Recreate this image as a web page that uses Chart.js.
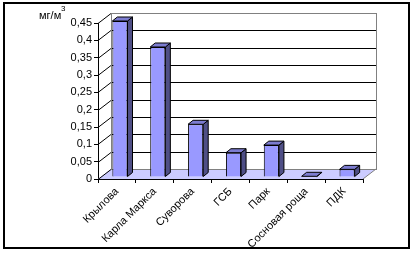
<!DOCTYPE html>
<html>
<head>
<meta charset="utf-8">
<script src="https://cdn.jsdelivr.net/npm/chart.js@4"></script>
<style>
  html, body { margin: 0; padding: 0; background: #fff; }
  canvas { display: block; }
</style>
</head>
<body>
<canvas id="myChart" width="414" height="253"></canvas>
<script>
// data
const stations = ['Крылова', 'Карла Маркса', 'Суворова', 'ГСБ', 'Парк', 'Сосновая роща', 'ПДК'];
const values = [0.45, 0.375, 0.152, 0.07, 0.092, 0.002, 0.022];
const yTicks = [0, 0.05, 0.1, 0.15, 0.2, 0.25, 0.3, 0.35, 0.4, 0.45];
const unitLabel = 'мг/м';

// depth of the 3d box and of the bars
const DX = 13, DY = -10;
const BX = 3, BY = -2;
const BDX = 5, BDY = -4;

const box3d = {
    id: 'box3d',
    beforeDatasetsDraw(chart) {
        const ctx = chart.ctx;
        const xs = chart.scales.x, ys = chart.scales.y;
        const left = xs.left, right = xs.right;
        const bottom = ys.getPixelForValue(0);
        const top = ys.getPixelForValue(yTicks[yTicks.length - 1]);
        ctx.save();
        // floor
        ctx.fillStyle = '#ccccff';
        ctx.beginPath();
        ctx.moveTo(left, bottom);
        ctx.lineTo(right, bottom);
        ctx.lineTo(right + DX, bottom + DY);
        ctx.lineTo(left + DX, bottom + DY);
        ctx.closePath();
        ctx.fill();
        ctx.strokeStyle = '#808080';
        ctx.lineWidth = 1;
        ctx.beginPath();
        ctx.moveTo(right, bottom);
        ctx.lineTo(right + DX, bottom + DY);
        ctx.stroke();
        // grid on the back wall + diagonals
        ctx.strokeStyle = '#000';
        yTicks.forEach(v => {
            const py = Math.round(ys.getPixelForValue(v)) + 0.5;
            ctx.beginPath();
            ctx.moveTo(left, py);
            ctx.lineTo(left + DX, py + DY);
            if (v > 0 && v < yTicks[yTicks.length - 1]) ctx.lineTo(right + DX, py + DY);
            ctx.stroke();
        });
        // back wall frame
        ctx.strokeStyle = '#808080';
        ctx.strokeRect(Math.round(left + DX) + 0.5, Math.round(top + DY) + 0.5,
            Math.round(right - left), Math.round(bottom - top));
        ctx.restore();
        ctx.save();
        ctx.translate(BX, BY);
    },
    afterDatasetsDraw(chart) {
        const ctx = chart.ctx;
        chart.getDatasetMeta(0).data.forEach(bar => {
            const l = bar.x - bar.width / 2, r = bar.x + bar.width / 2;
            const t = bar.y, b = bar.base;
            ctx.strokeStyle = '#000';
            ctx.lineWidth = 1;
            // side
            ctx.fillStyle = '#4f4f86';
            ctx.beginPath();
            ctx.moveTo(r, t);
            ctx.lineTo(r + BDX, t + BDY);
            ctx.lineTo(r + BDX, b + BDY);
            ctx.lineTo(r, b);
            ctx.closePath();
            ctx.fill();
            ctx.stroke();
            // top
            ctx.fillStyle = '#7c7cd0';
            ctx.beginPath();
            ctx.moveTo(l, t);
            ctx.lineTo(l + BDX, t + BDY);
            ctx.lineTo(r + BDX, t + BDY);
            ctx.lineTo(r, t);
            ctx.closePath();
            ctx.fill();
            ctx.stroke();
        });
        ctx.restore();
    },
    afterDraw(chart) {
        const ctx = chart.ctx;
        ctx.save();
        // units
        ctx.fillStyle = '#000';
        ctx.font = '11px "Liberation Sans", Arial, sans-serif';
        ctx.textBaseline = 'alphabetic';
        ctx.fillText(unitLabel, 39, 19);
        ctx.font = '8px "Liberation Sans", Arial, sans-serif';
        ctx.fillText('3', 61, 11);
        // outer frame
        ctx.strokeStyle = '#000';
        ctx.lineWidth = 2;
        ctx.strokeRect(4, 3, 405, 245);
        ctx.restore();
    }
};

new Chart('myChart', {
    type: 'bar',
    data: {
        labels: stations,
        datasets: [{
            data: values,
            backgroundColor: '#9999ff',
            borderColor: '#000',
            borderWidth: 1,
            barPercentage: 0.4,
            categoryPercentage: 1,
            clip: false
        }]
    },
    options: {
        responsive: false,
        animation: false,
        devicePixelRatio: 1,
        layout: { padding: { left: 0, right: 51, top: 23, bottom: 0 } },
        plugins: { legend: { display: false }, tooltip: { enabled: false } },
        scales: {
            x: {
                grid: { display: true, drawOnChartArea: false, color: '#000', tickLength: 4, offset: true },
                border: { color: '#000' },
                ticks: {
                    autoSkip: false, minRotation: 45, maxRotation: 45, padding: 2,
                    color: '#000', font: { family: '"Liberation Sans", Arial, sans-serif', size: 11 }
                },
                afterFit: s => { s.height = 74; }
            },
            y: {
                min: 0,
                max: 0.45,
                grid: { drawOnChartArea: false, color: '#000', tickLength: 4 },
                border: { color: '#000' },
                ticks: {
                    stepSize: 0.05, padding: 2, color: '#000',
                    font: { family: '"Liberation Sans", Arial, sans-serif', size: 11 },
                    callback: v => String(Math.round(v * 100) / 100).replace('.', ',')
                },
                afterFit: s => { s.width = 98; }
            }
        }
    },
    plugins: [box3d]
});
</script>
</body>
</html>
